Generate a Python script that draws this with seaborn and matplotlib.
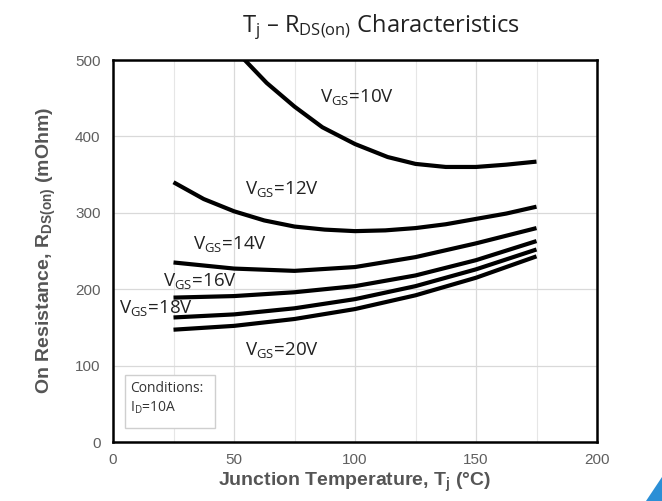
import matplotlib
matplotlib.use("Agg")
import matplotlib.pyplot as plt
from matplotlib.patches import Rectangle, Polygon
import numpy as np
import pandas as pd
import seaborn as sns

# Junction temperature (degC) and on-resistance (mOhm) for each gate voltage
t_10 = [52, 63.5, 75, 86.5, 100, 113.5, 125, 137.5, 150, 162.5, 175]
r_10 = [508, 470, 439, 412, 390, 373, 364, 360, 360, 363, 367]

t_12 = [25, 37.5, 50, 62.5, 75, 87.5, 100, 112.5, 125, 137.5, 150, 162.5, 175]
r_12 = [340, 318, 302, 290, 282, 278, 276, 277, 280, 285, 292, 299, 308]

t_14 = [25, 50, 75, 100, 125, 150, 175]
r_14 = [235, 227, 224, 229, 242, 260, 280]

t_16 = [25, 50, 75, 100, 125, 150, 175]
r_16 = [189, 191, 196, 204, 218, 238, 263]

t_18 = [25, 50, 75, 100, 125, 150, 175]
r_18 = [163, 167, 175, 187, 204, 226, 252]

t_20 = [25, 50, 75, 100, 125, 150, 175]
r_20 = [147, 152, 161, 174, 192, 215, 243]

series_names = ["10V", "12V", "14V", "16V", "18V", "20V"]
series_t = [t_10, t_12, t_14, t_16, t_18, t_20]
series_r = [r_10, r_12, r_14, r_16, r_18, r_20]

# label anchor (left, centre) in data coordinates
label_x = [85.5, 54.5, 33, 20.5, 2.5, 54.5]
label_y = [451, 331, 259, 211, 176, 121]

x_ticks = [0, 50, 100, 150, 200]
y_ticks = [0, 100, 200, 300, 400, 500]

rows = []
for name, ts, rs in zip(series_names, series_t, series_r):
    for t, r in zip(ts, rs):
        rows.append({"Tj": t, "Rds": r, "Vgs": name})
df = pd.DataFrame(rows)

sns.set_style("white")
plt.rcParams["font.family"] = ["Open Sans", "DejaVu Sans"]
plt.rcParams["mathtext.fontset"] = "custom"
plt.rcParams["mathtext.rm"] = "Open Sans"
plt.rcParams["mathtext.it"] = "Open Sans"
plt.rcParams["mathtext.bf"] = "Liberation Sans:bold"
plt.rcParams["lines.solid_joinstyle"] = "round"
plt.rcParams["lines.solid_capstyle"] = "butt"

fig = plt.figure(figsize=(6.62, 5.01), dpi=100)
ax = fig.add_axes([113 / 662, 59 / 501, 484 / 662, 382 / 501])

sns.lineplot(data=df, x="Tj", y="Rds", hue="Vgs", units="Vgs", estimator=None,
             palette=["black"] * len(series_names), legend=False,
             linewidth=3.0, ax=ax, zorder=3)

ax.set_xlim(0, 200)
ax.set_ylim(0, 500)
ax.set_xticks(x_ticks)
ax.set_yticks(y_ticks)
ax.set_xticks(np.arange(0, 201, 25), minor=True)
ax.grid(True, which="major", axis="both", color="#d9d9d9", linewidth=0.9, zorder=0)
ax.grid(True, which="minor", axis="x", color="#e6e6e6", linewidth=0.8, zorder=0)
ax.tick_params(axis="both", which="both", length=0)
ax.tick_params(axis="x", pad=8)
ax.tick_params(axis="y", pad=9)
for lab in ax.get_xticklabels() + ax.get_yticklabels():
    lab.set_fontfamily("Liberation Sans")
    lab.set_fontsize(11)
    lab.set_color("#5f5f5f")

for sp in ax.spines.values():
    sp.set_visible(True)
    sp.set_color("black")
    sp.set_linewidth(1.8)
    sp.set_zorder(4)

ax.set_xlabel("Junction Temperature, T$_\\mathbf{j}$ (°C)", fontfamily="Liberation Sans",
              fontweight="bold", fontsize=14, color="#555555", labelpad=3)
ax.set_ylabel("On Resistance, R$_\\mathbf{DS(on)}$ (mOhm)", fontfamily="Liberation Sans",
              fontweight="bold", fontsize=14, color="#555555", labelpad=12)

fig.text(0.575, 0.945, "T$_\\mathrm{j}$ – R$_\\mathrm{DS(on)}$ Characteristics",
         ha="center", va="center", fontsize=17, color="#222222")

for name, lx, ly in zip(series_names, label_x, label_y):
    ax.text(lx, ly, "V$_\\mathrm{GS}$=" + name, ha="left", va="center",
            fontsize=13.5, color="#222222", zorder=5)

# test-conditions box
ax.add_patch(Rectangle((5, 18), 37, 70, facecolor="white", edgecolor="#cfcfcf",
                       linewidth=1.0, zorder=2))
ax.text(7.0, 70, "Conditions:", ha="left", va="center", fontsize=10, color="#333333", zorder=5)
ax.text(7.0, 45, "I$_\\mathrm{D}$=10A", ha="left", va="center", fontsize=10, color="#333333", zorder=5)

# corner logo fragment
fig.patches.append(Polygon([[646 / 662, 0], [662 / 662, 0], [662 / 662, 24 / 501]],
                           closed=True, facecolor="#2b8fd6", edgecolor="none",
                           transform=fig.transFigure, figure=fig))

fig.savefig("out.png", dpi=100)
